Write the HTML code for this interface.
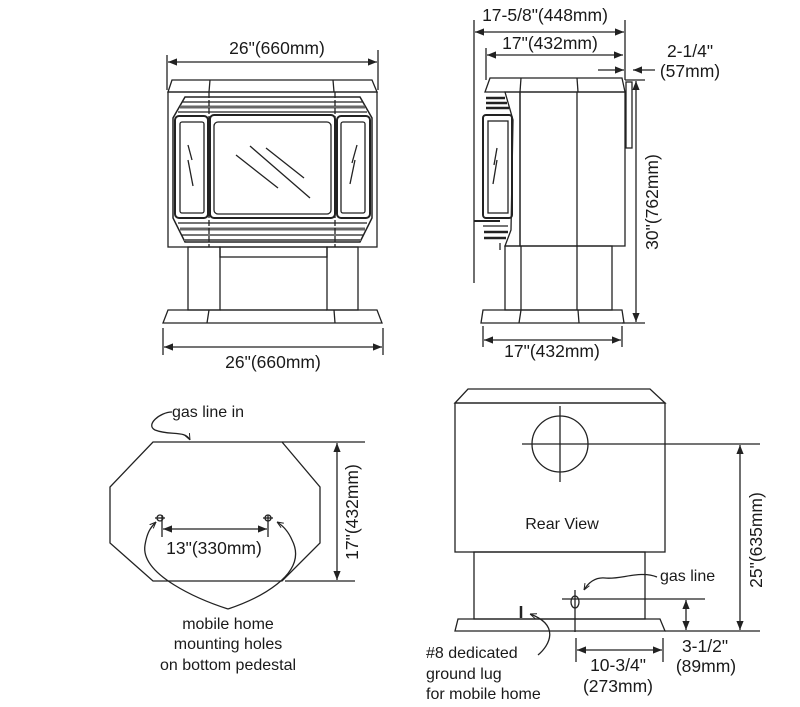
<!DOCTYPE html>
<html><head><meta charset="utf-8"><style>
html,body{margin:0;padding:0;background:#fff;}
svg{display:block;}
text{font-family:"Liberation Sans",sans-serif;font-size:16px;fill:#1a1a1a;}
text.d{font-size:17.5px;}
</style></head><body>
<svg width="800" height="707" viewBox="0 0 800 707" xmlns="http://www.w3.org/2000/svg">
<defs>
<marker id="a" viewBox="0 0 10 10" refX="10" refY="5" markerWidth="7" markerHeight="7" orient="auto-start-reverse"><path d="M0,1 L10,5 L0,9 z" fill="#222"/></marker>
<marker id="s" viewBox="0 0 10 10" refX="10" refY="5" markerWidth="5" markerHeight="5" orient="auto"><path d="M0,1 L10,5 L0,9" fill="none" stroke="#222" stroke-width="1.5"/></marker>
</defs>
<g stroke="#222" stroke-width="1.3" fill="none">
<!-- FRONT VIEW -->
<line x1="167" y1="55" x2="167" y2="90"/><line x1="378" y1="50" x2="378" y2="90"/>
<line x1="168" y1="62" x2="377" y2="62" marker-start="url(#a)" marker-end="url(#a)"/>
<path d="M172,80 L372,80 L377,92 L168,92 Z"/>
<line x1="210" y1="80" x2="209" y2="92"/><line x1="333" y1="80" x2="334" y2="92"/>
<rect x="168" y="92" width="209" height="155"/>
<path d="M185,97 L360,97 L372,118 L372,218 L360,242 L185,242 L173,218 L173,118 Z" stroke-width="1.5"/>
<line x1="182" y1="102" x2="363" y2="102"/><line x1="180" y1="107" x2="365" y2="107" stroke-width="3" stroke="#666"/>
<line x1="178" y1="112" x2="367" y2="112"/>
<line x1="178" y1="223" x2="367" y2="223"/><line x1="180" y1="229" x2="365" y2="229" stroke-width="3" stroke="#666"/>
<line x1="182" y1="235" x2="363" y2="235"/><line x1="184" y1="240" x2="361" y2="240" stroke-width="2" stroke="#666"/>
<rect x="175" y="116" width="33" height="102" rx="4" stroke-width="2"/>
<rect x="180" y="122" width="24" height="91" rx="2"/>
<rect x="210" y="115" width="125" height="103" rx="4" stroke-width="2"/>
<rect x="214" y="122" width="117" height="92" rx="4"/>
<rect x="337" y="116" width="33" height="102" rx="4" stroke-width="2"/>
<rect x="341" y="122" width="24" height="91" rx="2"/>
<line x1="188" y1="145" x2="192" y2="160"/><line x1="188" y1="160" x2="193" y2="186"/>
<line x1="357" y1="145" x2="352" y2="163"/><line x1="355" y1="160" x2="350" y2="184"/>
<line x1="236" y1="155" x2="278" y2="188"/><line x1="250" y1="146" x2="310" y2="198"/><line x1="266" y1="148" x2="304" y2="178"/>
<line x1="209" y1="92" x2="209" y2="247" stroke-dasharray="6,2"/><line x1="335" y1="92" x2="335" y2="247" stroke-dasharray="6,2"/>
<rect x="188" y="247" width="32" height="63"/><rect x="327" y="247" width="31" height="63"/>
<rect x="220" y="247" width="107" height="10"/><line x1="220" y1="310" x2="327" y2="310"/>
<path d="M168,310 L377,310 L382,323 L163,323 Z"/>
<line x1="209" y1="310" x2="207" y2="323"/><line x1="334" y1="310" x2="335" y2="323"/>
<line x1="163" y1="328" x2="163" y2="355"/><line x1="383" y1="328" x2="383" y2="355"/>
<line x1="164" y1="347" x2="382" y2="347" marker-start="url(#a)" marker-end="url(#a)"/>
<!-- SIDE VIEW -->
<line x1="474" y1="20" x2="474" y2="283"/><line x1="625" y1="20" x2="625" y2="80"/>
<line x1="475" y1="32" x2="624" y2="32" marker-start="url(#a)" marker-end="url(#a)"/>
<line x1="486" y1="48" x2="486" y2="80"/>
<line x1="487" y1="55" x2="623" y2="55" marker-start="url(#a)" marker-end="url(#a)"/>
<line x1="598" y1="70" x2="624" y2="70" marker-end="url(#a)"/><line x1="655" y1="70" x2="633" y2="70" marker-end="url(#a)"/>
<rect x="626" y="82" width="6" height="66"/>
<path d="M490,78 L622,78 L625,92 L485,92 Z"/>
<line x1="521" y1="78" x2="520" y2="92"/><line x1="577" y1="78" x2="578" y2="92"/>
<rect x="520" y="92" width="105" height="154"/><line x1="577" y1="92" x2="577" y2="246"/>
<path d="M505,92 L520,92 L520,246 L505,246 L511,230 L513,120 Z"/>
<line x1="486" y1="98" x2="505" y2="98" stroke-width="2.5"/><line x1="486" y1="103" x2="507" y2="103" stroke-width="2.5"/><line x1="486" y1="108" x2="509" y2="108" stroke-width="2.5"/>
<rect x="483" y="115" width="29" height="103" rx="3" stroke-width="2"/>
<rect x="488" y="121" width="20" height="92"/>
<line x1="497" y1="148" x2="494" y2="165"/><line x1="497" y1="160" x2="493" y2="184"/>
<line x1="474" y1="221" x2="500" y2="221" stroke-width="2"/><line x1="483" y1="226" x2="508" y2="226"/>
<line x1="484" y1="232" x2="508" y2="232" stroke-width="2.5"/><line x1="484" y1="238" x2="506" y2="238" stroke-width="2.5"/>
<line x1="500" y1="243" x2="500" y2="250"/>
<rect x="505" y="246" width="107" height="64"/><line x1="521" y1="246" x2="521" y2="310"/><line x1="577" y1="246" x2="577" y2="310"/>
<path d="M483,310 L622,310 L624,323 L481,323 Z"/>
<line x1="521" y1="310" x2="519" y2="323"/><line x1="578" y1="310" x2="579" y2="323"/>
<line x1="625" y1="80" x2="645" y2="80"/><line x1="622" y1="323" x2="645" y2="323"/>
<line x1="636" y1="81" x2="636" y2="322" marker-start="url(#a)" marker-end="url(#a)"/>
<line x1="483" y1="326" x2="483" y2="347"/><line x1="622" y1="326" x2="622" y2="347"/>
<line x1="484" y1="340" x2="621" y2="340" marker-start="url(#a)" marker-end="url(#a)"/>
<!-- FLOOR PLAN -->
<path d="M153,442 L282,442 L320,487 L320,543 L282,581 L153,581 L110,543 L110,487 Z"/>
<line x1="282" y1="442" x2="365" y2="442"/><line x1="285" y1="581" x2="355" y2="581"/>
<line x1="337" y1="443" x2="337" y2="580" marker-start="url(#a)" marker-end="url(#a)"/>
<line x1="162" y1="515" x2="162" y2="537"/><line x1="268" y1="515" x2="268" y2="537"/>
<line x1="163" y1="529" x2="267" y2="529" marker-start="url(#a)" marker-end="url(#a)"/>
<circle cx="160" cy="518" r="3"/><circle cx="268" cy="518" r="3"/>
<line x1="155" y1="518" x2="165" y2="518"/><line x1="263" y1="518" x2="273" y2="518"/>
<path d="M228,609 C200,600 140,575 145,545 C147,533 150,528 156,522" marker-end="url(#s)"/>
<path d="M228,609 C255,600 310,575 292,540 C289,533 285,527 277,522" marker-end="url(#s)"/>
<path d="M172,412 C160,412 145,425 155,430 C170,436 185,430 190,440" marker-end="url(#s)"/>
<!-- REAR VIEW -->
<path d="M468,389 L650,389 L665,403 L455,403 Z"/>
<rect x="455" y="403" width="210" height="149"/>
<circle cx="560" cy="444" r="28"/>
<line x1="522" y1="444" x2="600" y2="444"/><line x1="560" y1="406" x2="560" y2="482"/>
<line x1="600" y1="444" x2="760" y2="444"/><line x1="665" y1="631" x2="760" y2="631"/>
<line x1="740" y1="445" x2="740" y2="630" marker-start="url(#a)" marker-end="url(#a)"/>
<rect x="474" y="552" width="171" height="67"/>
<path d="M458,619 L660,619 L665,631 L455,631 Z"/>
<line x1="562" y1="599" x2="705" y2="599"/>
<ellipse cx="575" cy="602" rx="4" ry="6"/><line x1="575" y1="590" x2="575" y2="632"/>
<line x1="686" y1="600" x2="686" y2="630" marker-start="url(#a)" marker-end="url(#a)"/>
<path d="M657,577 C640,570 620,580 605,578 C595,577 588,583 584,590" marker-end="url(#s)"/>
<line x1="521" y1="606" x2="521" y2="618" stroke-width="2.5"/>
<path d="M538,655 C550,645 560,625 530,614" marker-end="url(#s)"/>
<line x1="576" y1="638" x2="576" y2="662"/><line x1="663" y1="638" x2="663" y2="662"/>
<line x1="577" y1="650" x2="662" y2="650" marker-start="url(#a)" marker-end="url(#a)"/>
</g>
<g>
<text class="d" x="277" y="54" text-anchor="middle">26"(660mm)</text>
<text class="d" x="273" y="368" text-anchor="middle">26"(660mm)</text>
<text class="d" x="545" y="21" text-anchor="middle">17-5/8"(448mm)</text>
<text class="d" x="550" y="49" text-anchor="middle">17"(432mm)</text>
<text class="d" x="690" y="57" text-anchor="middle">2-1/4"</text>
<text class="d" x="690" y="77" text-anchor="middle">(57mm)</text>
<text class="d" x="552" y="357" text-anchor="middle">17"(432mm)</text>
<text class="d" transform="translate(658,202) rotate(-90)" text-anchor="middle">30"(762mm)</text>
<text x="172" y="417">gas line in</text>
<text class="d" transform="translate(358,512) rotate(-90)" text-anchor="middle">17"(432mm)</text>
<text class="d" x="214" y="554" text-anchor="middle">13"(330mm)</text>
<text x="228" y="629" text-anchor="middle">mobile home</text>
<text x="228" y="649" text-anchor="middle">mounting holes</text>
<text x="228" y="670" text-anchor="middle">on bottom pedestal</text>
<text x="562" y="529" text-anchor="middle">Rear View</text>
<text class="d" transform="translate(762,540) rotate(-90)" text-anchor="middle">25"(635mm)</text>
<text x="660" y="581">gas line</text>
<text x="426" y="658">#8 dedicated</text>
<text x="426" y="679">ground lug</text>
<text x="426" y="699">for mobile home</text>
<text class="d" x="618" y="671" text-anchor="middle">10-3/4"</text>
<text class="d" x="618" y="692" text-anchor="middle">(273mm)</text>
<text class="d" x="705" y="652" text-anchor="middle">3-1/2"</text>
<text class="d" x="706" y="672" text-anchor="middle">(89mm)</text>
</g>
</svg>
</body></html>
